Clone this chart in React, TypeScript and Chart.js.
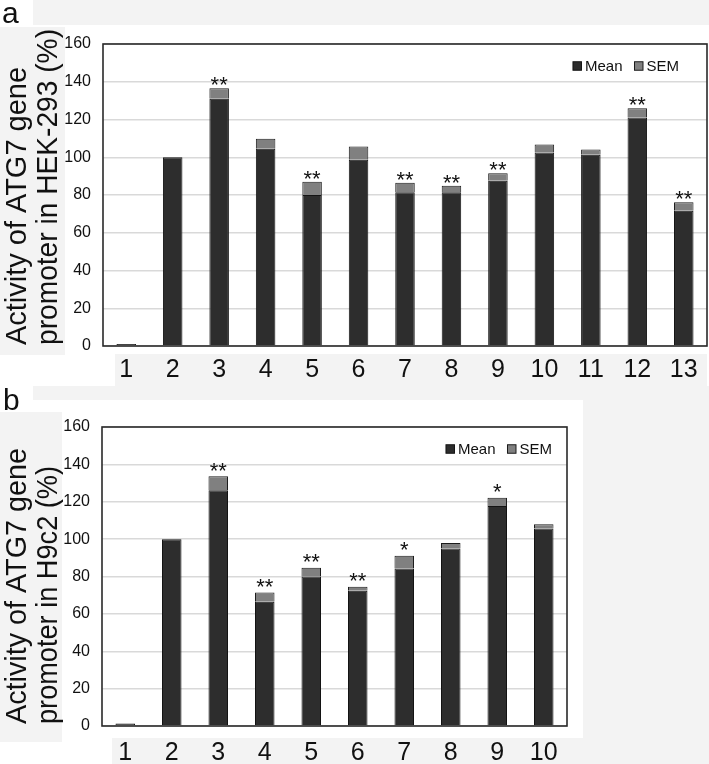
import React, { useEffect, useRef } from 'react';
import { Chart, registerables } from 'chart.js';

Chart.register(...registerables);

const FONT = '"Liberation Sans", Arial, Helvetica, sans-serif';
Chart.defaults.font.family = FONT;

// ---------- data: panel a (HEK-293) ----------
const categoriesA = ['1', '2', '3', '4', '5', '6', '7', '8', '9', '10', '11', '12', '13'];
const meanA = [1, 100, 131, 104.5, 80, 98.7, 81.5, 81.5, 87.5, 102.5, 101.3, 121, 71.6];
const semA = [0, 0, 5.5, 5.3, 7, 7, 5, 3.4, 4, 4.3, 2.8, 5, 4.6];
const starsA = ['', '', '**', '', '**', '', '**', '**', '**', '', '', '**', '**'];
const titleA = ['Activity of ATG7 gene', 'promoter in HEK-293 (%)'];

// ---------- data: panel b (H9c2) ----------
const categoriesB = ['1', '2', '3', '4', '5', '6', '7', '8', '9', '10'];
const meanB = [1.3, 100, 126.2, 66.5, 80, 72.4, 84.3, 95, 117.7, 105.7];
const semB = [0, 0, 7.5, 5, 4.7, 2.1, 6.8, 2.9, 4.4, 2.2];
const starsB = ['', '', '**', '**', '**', '**', '*', '', '*', ''];
const titleB = ['Activity of ATG7 gene', 'promoter in H9c2 (%)'];

const yTickValues = [0, 20, 40, 60, 80, 100, 120, 140, 160];
const seriesNames = ['Mean', 'SEM'];

type PanelProps = {
  categories: string[];
  mean: number[];
  sem: number[];
  stars: string[];
  title: string[];
  titleMaxWidths: number[];
  titleStartOffset: number;
  width: number;
  height: number;
  padTop: number;
  padRight: number;
  yWidth: number;
  xHeight: number;
  xPad: number;
  starGap: number;
  legendRight: number;
};

function Panel(p: PanelProps) {
  const ref = useRef<HTMLCanvasElement | null>(null);
  useEffect(() => {
    if (!ref.current) return;
    const overlayPlugin = {
      id: 'starsFrameLegend',
      afterDatasetsDraw(chart: any) {
        const { ctx, chartArea } = chart;
        const meta = chart.getDatasetMeta(1);
        ctx.save();
        // significance stars
        ctx.font = `22px ${FONT}`;
        ctx.fillStyle = '#111';
        ctx.textAlign = 'center';
        ctx.textBaseline = 'alphabetic';
        p.stars.forEach((s, i) => {
          if (!s) return;
          const el = meta.data[i];
          ctx.fillText(s, el.x, el.y - p.starGap + 13);
        });
        // plot frame
        ctx.strokeStyle = '#2a2a2a';
        ctx.lineWidth = 1.6;
        ctx.strokeRect(chartArea.left, chartArea.top, chartArea.right - chartArea.left, chartArea.bottom - chartArea.top);
        // legend inside the plot, top right
        ctx.font = `15px ${FONT}`;
        ctx.textAlign = 'left';
        ctx.textBaseline = 'middle';
        const boxS = 8.5;
        const gapBT = 3.5;
        const gapItems = 12;
        const items = chart.data.datasets.map((ds: any) => ({
          text: ds.label as string,
          fill: ds.backgroundColor as string,
          stroke: ds.borderColor as string,
          w: ctx.measureText(ds.label).width,
        }));
        const total = items.reduce((a: number, it: any) => a + boxS + gapBT + it.w, 0) + gapItems * (items.length - 1);
        let x = chartArea.right - p.legendRight - total;
        const y = chartArea.top + 22;
        items.forEach((it: any) => {
          ctx.fillStyle = it.fill;
          ctx.fillRect(x, y - boxS / 2, boxS, boxS);
          ctx.strokeStyle = it.stroke;
          ctx.lineWidth = 1;
          ctx.strokeRect(x, y - boxS / 2, boxS, boxS);
          x += boxS + gapBT;
          ctx.fillStyle = '#111';
          ctx.fillText(it.text, x, y + 0.5);
          x += it.w + gapItems;
        });
        // rotated two-line y-axis title, starting at the bottom of the plot
        ctx.font = `29px ${FONT}`;
        ctx.fillStyle = '#111';
        ctx.textAlign = 'left';
        ctx.textBaseline = 'middle';
        p.title.forEach((line, i) => {
          ctx.save();
          ctx.translate(17.5 + i * 31, chartArea.bottom + p.titleStartOffset);
          ctx.rotate(-Math.PI / 2);
          ctx.fillText(line, 0, 0, p.titleMaxWidths[i]);
          ctx.restore();
        });
        ctx.restore();
      },
    };
    const chart = new Chart(ref.current, {
      type: 'bar',
      data: {
        labels: p.categories,
        datasets: [
          {
            label: seriesNames[0],
            data: p.mean,
            backgroundColor: '#2d2d2d',
            borderColor: '#141414',
            borderWidth: 1,
            stack: 's',
            barPercentage: 0.42,
            categoryPercentage: 1,
          },
          {
            label: seriesNames[1],
            data: p.sem,
            backgroundColor: '#808080',
            borderColor: '#1c1c1c',
            borderWidth: 1,
            stack: 's',
            barPercentage: 0.42,
            categoryPercentage: 1,
          },
        ],
      },
      options: {
        responsive: false,
        animation: false,
        devicePixelRatio: 1,
        layout: { padding: { top: p.padTop, right: p.padRight, left: 0, bottom: 0 } },
        plugins: {
          legend: { display: false },
          tooltip: { enabled: false },
        },
        scales: {
          x: {
            stacked: true,
            grid: { display: false, drawTicks: false },
            border: { display: false },
            ticks: { color: '#111', font: { size: 25, family: FONT }, padding: p.xPad },
            afterFit(scale: any) {
              scale.height = p.xHeight;
            },
          },
          y: {
            stacked: true,
            min: 0,
            max: 160,
            afterBuildTicks(scale: any) {
              scale.ticks = yTickValues.map((v) => ({ value: v }));
            },
            grid: { color: '#d9d9d9', lineWidth: 1.5, drawTicks: false },
            border: { display: false },
            ticks: { color: '#111', font: { size: 16, family: FONT }, padding: 12 },
            title: { display: false },
            afterFit(scale: any) {
              scale.width = p.yWidth;
            },
          },
        },
      },
      plugins: [overlayPlugin],
    });
    return () => chart.destroy();
  }, []);
  return <canvas ref={ref} width={p.width} height={p.height} style={{ display: 'block', width: p.width, height: p.height }} />;
}

const gray = '#f3f3f3';
const box = (left: number, top: number, width: number, height: number, bg = gray): React.CSSProperties => ({
  position: 'absolute',
  left,
  top,
  width,
  height,
  background: bg,
});

export default function App() {
  return (
    <div style={{ position: 'absolute', left: 0, top: 0, width: 709, height: 764, background: '#fff', overflow: 'hidden', fontFamily: FONT }}>
      {/* light grey scan backgrounds */}
      <div style={box(33, 0, 676, 25)} />
      <div style={box(0, 27, 65, 328)} />
      <div style={box(115, 354, 592, 32)} />
      <div style={box(33, 386, 676, 14)} />
      <div style={box(0, 412, 62, 330)} />
      <div style={box(583, 390, 126, 374)} />
      <div style={box(112, 738, 471, 26)} />
      <div style={{ position: 'absolute', left: 0, top: 0 }}>
        <Panel
          categories={categoriesA}
          mean={meanA}
          sem={semA}
          stars={starsA}
          title={titleA}
          titleMaxWidths={[278, 316]}
          titleStartOffset={-1}
          width={709}
          height={392}
          padTop={44}
          padRight={2}
          yWidth={103}
          xHeight={46}
          xPad={9}
          starGap={9}
          legendRight={28}
        />
      </div>
      <div style={{ position: 'absolute', left: 0, top: 392 }}>
        <Panel
          categories={categoriesB}
          mean={meanB}
          sem={semB}
          stars={starsB}
          title={titleB}
          titleMaxWidths={[276, 258]}
          titleStartOffset={-2}
          width={709}
          height={372}
          padTop={35}
          padRight={142}
          yWidth={102}
          xHeight={38}
          xPad={12}
          starGap={11.5}
          legendRight={15}
        />
      </div>
      <div style={{ position: 'absolute', left: 2, top: -2, fontSize: 30, lineHeight: '30px', color: '#111' }}>a</div>
      <div style={{ position: 'absolute', left: 3, top: 385, fontSize: 30, lineHeight: '30px', color: '#111' }}>b</div>
    </div>
  );
}
